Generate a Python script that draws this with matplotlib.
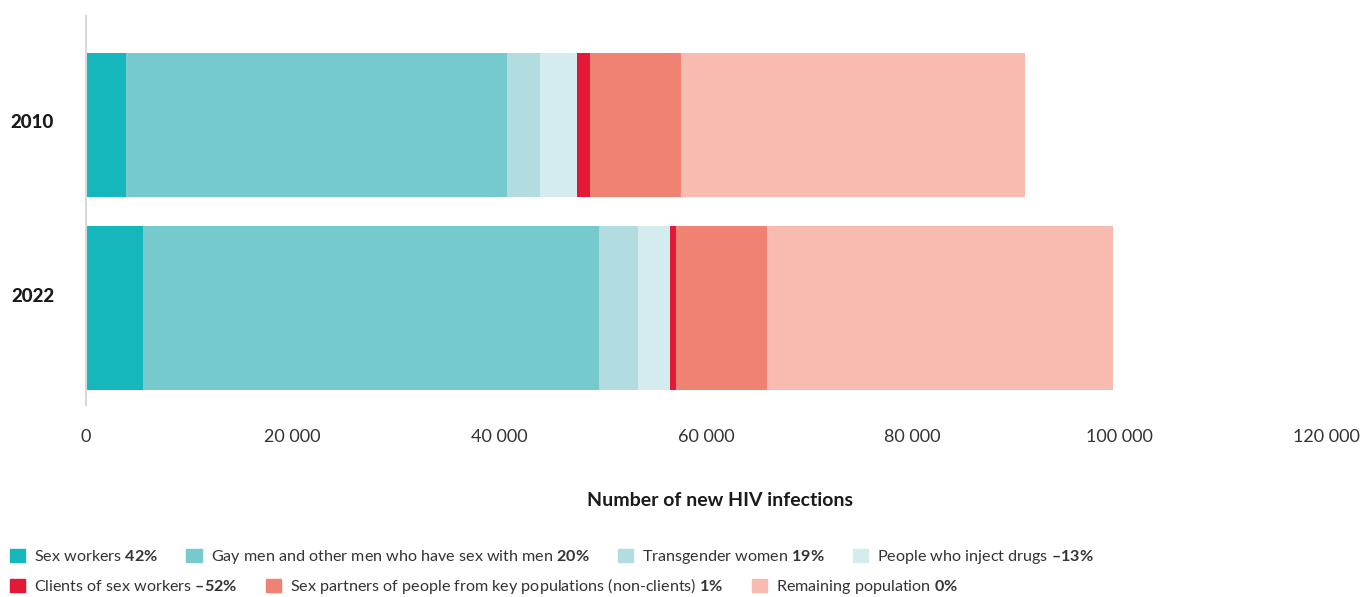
import matplotlib
matplotlib.use("Agg")
import matplotlib.pyplot as plt
from matplotlib.ticker import FuncFormatter
from matplotlib.patches import Patch
import numpy as np

plt.rcParams['font.family'] = ['Lato', 'DejaVu Sans']
plt.rcParams['mathtext.fontset'] = 'custom'
plt.rcParams['mathtext.rm'] = 'Lato'
plt.rcParams['mathtext.bf'] = 'Lato:bold'

years = ["2010", "2022"]
groups = ["Sex workers", "Gay men and other men who have sex with men",
          "Transgender women", "People who inject drugs",
          "Clients of sex workers",
          "Sex partners of people from key populations (non-clients)",
          "Remaining population"]
changes = ["42%", "20%", "19%", "\u201313%", "\u201352%", "1%", "0%"]
infections_2010 = [3900, 36850, 3200, 3580, 1260, 8800, 33300]
infections_2022 = [5560, 44050, 3850, 3050, 600, 8820, 33450]
colors = ["#15b7bd", "#76c9cc", "#b2dde0", "#d4ecee",
          "#e31937", "#f08273", "#f8bbaf"]

data = np.array([infections_2010, infections_2022])
ypos = np.array([0.0, 1.0])
heights = [0.787, 0.896]

fig = plt.figure(figsize=(13.62, 5.97), dpi=100)
ax = fig.add_axes([86 / 1362, 1 - 405 / 597, 1240 / 1362, 389 / 597])

left = np.zeros(2)
for i, g in enumerate(groups):
    ax.barh(ypos, data[:, i], left=left, height=heights, color=colors[i], linewidth=0)
    left += data[:, i]

ax.set_xlim(0, 120000)
ax.set_ylim(1.53, -0.596)
ax.set_xticks(np.arange(0, 120001, 20000))
ax.xaxis.set_major_formatter(FuncFormatter(lambda v, p: f"{int(v):,}".replace(",", " ")))
ax.set_yticks([-0.022, 0.929])
ax.set_yticklabels(years, fontweight="black", fontsize=13.5, color="#1a1a1a")
ax.tick_params(axis="x", length=0, pad=17, labelsize=13, labelcolor="#333333")
ax.tick_params(axis="y", length=0, pad=23)
for s in ["top", "right", "bottom"]:
    ax.spines[s].set_visible(False)
ax.spines["left"].set_color("#d9d9d9")
ax.spines["left"].set_linewidth(1.5)

fig.text(720 / 1362, 1 - 500 / 597, "Number of new HIV infections",
         ha="center", va="center", fontsize=14, fontweight="bold", color="#1a1a1a")

def g_label(name, pct):
    return name + " $\\mathbf{" + pct.replace("%", "\\%") + "}$"

rows = [[0, 1, 2, 3], [4, 5, 6]]
row_y = [557, 586]
for r, yy in zip(rows, row_y):
    handles = [Patch(color=colors[i]) for i in r]
    leg = fig.legend(handles, [g_label(groups[i], changes[i]) for i in r],
                     loc="center left", bbox_to_anchor=(10 / 1362, 1 - yy / 597),
                     ncol=len(r), frameon=False, fontsize=11.6,
                     handlelength=0.95, handleheight=0.95,
                     handletextpad=0.55, columnspacing=1.75,
                     borderaxespad=0, borderpad=0)
    for t in leg.get_texts():
        t.set_color("#333333")

fig.savefig("out.png", dpi=100)
